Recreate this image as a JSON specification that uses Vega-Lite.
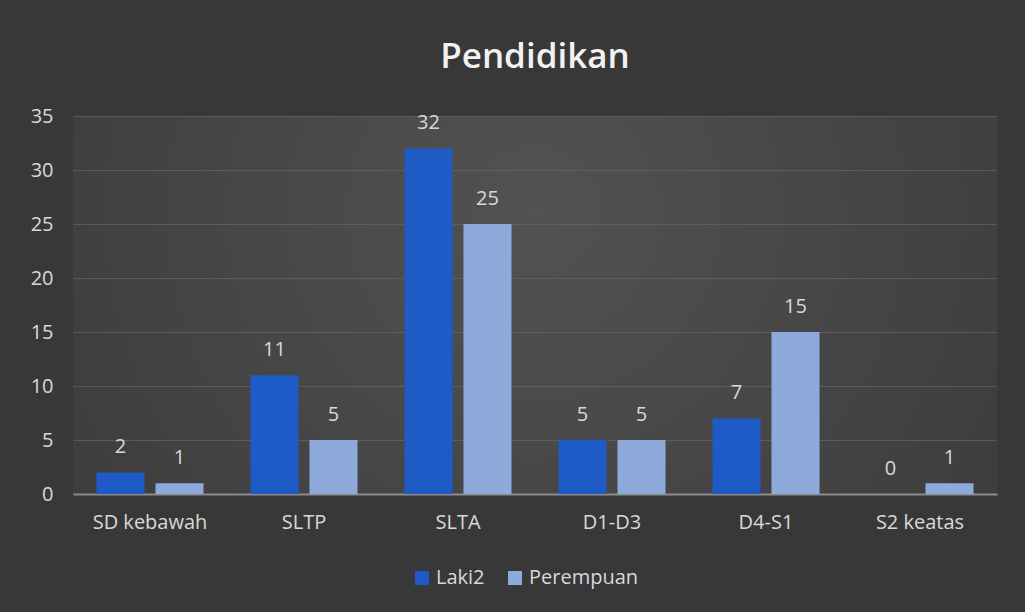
{
  "$schema": "https://vega.github.io/schema/vega-lite/v6.json",
  "autosize": "none",
  "width": 924,
  "height": 378,
  "padding": {"left": 73, "top": 116, "right": 28, "bottom": 118},
  "background": "#383838",
  "title": {
    "text": "Pendidikan",
    "fontSize": 35,
    "fontWeight": 600,
    "font": "Open Sans",
    "color": "#f2f2f2",
    "anchor": "middle",
    "baseline": "alphabetic",
    "offset": 3
  },
  "data": {
    "values": [
      {"cat": "SD kebawah", "series": "Laki2", "value": 2},
      {"cat": "SD kebawah", "series": "Perempuan", "value": 1},
      {"cat": "SLTP", "series": "Laki2", "value": 11},
      {"cat": "SLTP", "series": "Perempuan", "value": 5},
      {"cat": "SLTA", "series": "Laki2", "value": 32},
      {"cat": "SLTA", "series": "Perempuan", "value": 25},
      {"cat": "D1-D3", "series": "Laki2", "value": 5},
      {"cat": "D1-D3", "series": "Perempuan", "value": 5},
      {"cat": "D4-S1", "series": "Laki2", "value": 7},
      {"cat": "D4-S1", "series": "Perempuan", "value": 15},
      {"cat": "S2 keatas", "series": "Laki2", "value": 0},
      {"cat": "S2 keatas", "series": "Perempuan", "value": 1}
    ]
  },
  "encoding": {
    "x": {
      "field": "cat",
      "type": "nominal",
      "sort": null,
      "title": null,
      "scale": {"paddingInner": 0.305, "paddingOuter": 0.1526},
      "axis": {
        "labelAngle": 0,
        "labelFont": "Open Sans",
        "labelFontSize": 20,
        "labelColor": "#d9d9d9",
        "labelPadding": 18,
        "ticks": false,
        "domainColor": "#8c8c8c",
        "domainWidth": 2,
        "grid": false
      }
    },
    "xOffset": {
      "field": "series",
      "type": "nominal",
      "sort": ["Laki2", "Perempuan"],
      "scale": {"paddingInner": 0.186, "paddingOuter": 0}
    },
    "y": {
      "field": "value",
      "type": "quantitative",
      "title": null,
      "scale": {"domain": [0, 35], "nice": false},
      "axis": {
        "values": [0, 5, 10, 15, 20, 25, 30, 35],
        "labelFont": "Open Sans",
        "labelFontSize": 20,
        "labelColor": "#d9d9d9",
        "labelPadding": 20,
        "ticks": false,
        "domain": false,
        "gridColor": "#6a6a6a",
        "gridOpacity": 0.6,
        "gridWidth": 1
      }
    },
    "color": {
      "field": "series",
      "type": "nominal",
      "sort": ["Laki2", "Perempuan"],
      "scale": {"domain": ["Laki2", "Perempuan"], "range": ["#1e5bc6", "#8eaadb"]},
      "legend": {
        "title": null,
        "orient": "none",
        "legendX": 339,
        "legendY": 452,
        "direction": "horizontal",
        "symbolType": "square",
        "symbolSize": 196,
        "symbolStrokeWidth": 0,
        "labelFont": "Open Sans",
        "labelFontSize": 20,
        "labelColor": "#d9d9d9",
        "columnPadding": 20,
        "labelOffset": 4
      }
    }
  },
  "layer": [
    {"mark": {"type": "bar"}},
    {
      "mark": {"type": "text", "dy": -25, "font": "Open Sans", "fontSize": 20, "color": "#d9d9d9", "baseline": "middle"},
      "encoding": {"text": {"field": "value", "type": "quantitative"}, "color": {"value": "#d9d9d9"}}
    }
  ],
  "config": {
    "view": {
      "stroke": null,
      "fill": {
        "gradient": "radial",
        "x1": 0.5, "y1": 0.4, "r1": 0,
        "x2": 0.5, "y2": 0.4, "r2": 0.72,
        "stops": [
          {"offset": 0, "color": "#525252"},
          {"offset": 1, "color": "#383838"}
        ]
      }
    }
  }
}
